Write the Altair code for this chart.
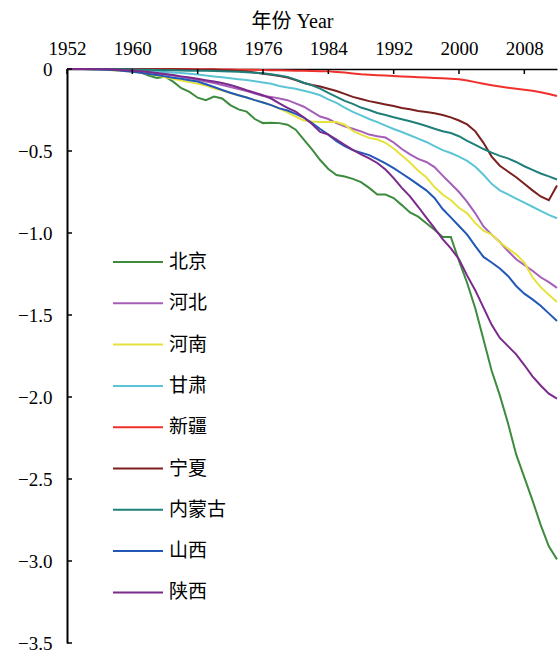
import altair as alt
import pandas as pd

years = list(range(1952, 2013))
series_names = ["北京", "河北", "河南", "甘肃", "新疆", "宁夏", "内蒙古", "山西", "陕西"]
colors = ["#3d8b3d", "#a65fb8", "#e6e23c", "#5bc5d5", "#f0302a",
          "#7b1f1f", "#1f7f7a", "#2158b8", "#7b2a8c"]

beijing = [0, 0, 0, -0.001, -0.002, -0.004, -0.006, -0.008, -0.012, -0.02,
           -0.04, -0.055, -0.047, -0.077, -0.117, -0.14, -0.175, -0.19, -0.168, -0.18,
           -0.22, -0.246, -0.26, -0.305, -0.33, -0.327, -0.33, -0.34, -0.37, -0.43,
           -0.49, -0.555, -0.61, -0.646, -0.655, -0.67, -0.69, -0.725, -0.766, -0.766,
           -0.787, -0.83, -0.875, -0.9, -0.94, -0.98, -1.024, -1.024, -1.17, -1.305,
           -1.46, -1.65, -1.84, -1.99, -2.16, -2.35, -2.49, -2.63, -2.78, -2.91,
           -2.99]
hebei = [0, 0, 0, -0.001, -0.002, -0.003, -0.005, -0.008, -0.012, -0.016,
         -0.021, -0.027, -0.033, -0.04, -0.048, -0.057, -0.066, -0.076, -0.086, -0.097,
         -0.11, -0.122, -0.135, -0.15, -0.165, -0.17, -0.18, -0.19, -0.21, -0.23,
         -0.26, -0.29, -0.305, -0.33, -0.35, -0.364, -0.38, -0.40, -0.41, -0.418,
         -0.448, -0.488, -0.52, -0.548, -0.567, -0.598, -0.65, -0.70, -0.75, -0.81,
         -0.88, -0.96, -1.01, -1.055, -1.11, -1.16, -1.195, -1.23, -1.27, -1.30,
         -1.335]
henan = [0, 0, 0, -0.002, -0.004, -0.006, -0.009, -0.012, -0.016, -0.022,
         -0.03, -0.04, -0.05, -0.06, -0.07, -0.08, -0.09, -0.1, -0.118, -0.132,
         -0.146, -0.16, -0.174, -0.19, -0.204, -0.22, -0.24, -0.265, -0.29, -0.314,
         -0.32, -0.323, -0.323, -0.323, -0.34, -0.378, -0.40, -0.42, -0.43, -0.45,
         -0.485, -0.527, -0.57, -0.62, -0.66, -0.72, -0.765, -0.80, -0.846, -0.88,
         -0.94, -0.986, -1.01, -1.056, -1.095, -1.13, -1.18, -1.27, -1.33, -1.376,
         -1.42]
gansu = [0, 0, 0, -0.001, -0.002, -0.003, -0.004, -0.006, -0.008, -0.01,
         -0.012, -0.015, -0.018, -0.021, -0.024, -0.029, -0.034, -0.04, -0.045, -0.051,
         -0.057, -0.062, -0.067, -0.075, -0.082, -0.09, -0.104, -0.113, -0.12, -0.133,
         -0.145, -0.16, -0.185, -0.207, -0.236, -0.262, -0.283, -0.305, -0.324, -0.345,
         -0.366, -0.384, -0.404, -0.425, -0.445, -0.47, -0.495, -0.512, -0.534, -0.56,
         -0.596, -0.645, -0.70, -0.74, -0.765, -0.79, -0.815, -0.84, -0.865, -0.89,
         -0.91]
xinjiang = [0, 0, 0, 0, 0, 0, 0, 0, 0, 0,
            0, 0, 0, 0, 0, -0.001, -0.001, -0.002, -0.002, -0.003,
            -0.003, -0.004, -0.004, -0.005, -0.006, -0.007, -0.008, -0.009, -0.01, -0.011,
            -0.012, -0.013, -0.014, -0.018, -0.022, -0.027, -0.032, -0.035, -0.038, -0.04,
            -0.043, -0.045, -0.047, -0.05, -0.052, -0.055, -0.057, -0.059, -0.063, -0.07,
            -0.08, -0.09, -0.099, -0.107, -0.114, -0.12, -0.126, -0.133, -0.142, -0.153,
            -0.165]
ningxia = [0, 0, 0, 0, 0, 0, 0, 0, -0.001, -0.001,
           -0.001, -0.002, -0.002, -0.002, -0.003, -0.003, -0.004, -0.004, -0.005, -0.007,
           -0.009, -0.012, -0.015, -0.022, -0.029, -0.035, -0.043, -0.052, -0.067, -0.085,
           -0.098, -0.107, -0.12, -0.134, -0.152, -0.17, -0.183, -0.196, -0.206, -0.216,
           -0.226, -0.238, -0.246, -0.256, -0.262, -0.27, -0.28, -0.295, -0.314, -0.338,
           -0.38, -0.45, -0.534, -0.59, -0.625, -0.66, -0.70, -0.74, -0.777, -0.80,
           -0.71]
neimenggu = [0, 0, 0, 0, 0, -0.001, -0.001, -0.002, -0.003, -0.004,
             -0.005, -0.006, -0.007, -0.008, -0.009, -0.01, -0.01, -0.011, -0.012, -0.013,
             -0.015, -0.017, -0.02, -0.023, -0.026, -0.032, -0.04, -0.048, -0.065, -0.084,
             -0.10, -0.12, -0.146, -0.17, -0.194, -0.213, -0.235, -0.25, -0.268, -0.28,
             -0.294, -0.306, -0.319, -0.332, -0.348, -0.364, -0.38, -0.39, -0.41, -0.438,
             -0.463, -0.488, -0.51, -0.53, -0.545, -0.567, -0.593, -0.615, -0.637, -0.655,
             -0.674]
shanxi = [0, 0, 0, -0.001, -0.003, -0.005, -0.008, -0.012, -0.017, -0.023,
          -0.03, -0.037, -0.045, -0.053, -0.06, -0.068, -0.076, -0.093, -0.11, -0.128,
          -0.145, -0.16, -0.174, -0.19, -0.204, -0.22, -0.24, -0.253, -0.274, -0.296,
          -0.33, -0.366, -0.40, -0.44, -0.47, -0.495, -0.51, -0.525, -0.55, -0.575,
          -0.604, -0.637, -0.67, -0.705, -0.74, -0.786, -0.854, -0.905, -0.957, -1.01,
          -1.08, -1.146, -1.18, -1.216, -1.262, -1.323, -1.37, -1.405, -1.444, -1.49,
          -1.537]
shaanxi = [0, 0, 0, 0, -0.001, -0.002, -0.004, -0.007, -0.01, -0.014,
           -0.018, -0.024, -0.03, -0.037, -0.045, -0.052, -0.06, -0.068, -0.076, -0.086,
           -0.097, -0.113, -0.13, -0.145, -0.16, -0.18, -0.21, -0.237, -0.26, -0.296,
           -0.335, -0.384, -0.40, -0.43, -0.462, -0.493, -0.52, -0.545, -0.573, -0.613,
           -0.665, -0.725, -0.777, -0.84, -0.906, -0.97, -1.037, -1.094, -1.16, -1.26,
           -1.35, -1.455, -1.56, -1.64, -1.69, -1.74, -1.805, -1.874, -1.93, -1.98,
           -2.01]

all_series = [beijing, hebei, henan, gansu, xinjiang, ningxia, neimenggu, shanxi, shaanxi]

x_ticks = [1952, 1960, 1968, 1976, 1984, 1992, 2000, 2008]
y_ticks = [0, -0.5, -1.0, -1.5, -2.0, -2.5, -3.0, -3.5]

rows = []
for idx, (name, vals) in enumerate(zip(series_names, all_series)):
    for yr, v in zip(years, vals):
        rows.append({"year": yr, "region": name, "value": v, "k": idx})
df = pd.DataFrame(rows)

tick_df = pd.DataFrame({"year": x_ticks})
ytick_df = pd.DataFrame({"value": y_ticks})

FONT = "Liberation Serif, Noto Sans CJK SC"

x_scale = alt.Scale(domain=[1952, 2012], nice=False, zero=False)
y_scale = alt.Scale(domain=[-3.5, 0], nice=False, zero=False)

x_axis = alt.Axis(orient="top", values=x_ticks, format="d", title="年份 Year",
                  titleFont=FONT, titleFontSize=20, titleFontWeight="normal",
                  titleColor="black", titleX=225, titleY=-42,
                  titleBaseline="alphabetic", titleAlign="center",
                  labelFont=FONT, labelFontSize=19, labelColor="black",
                  labelBaseline="alphabetic", labelPadding=15,
                  labelFlush=False, labelOverlap=False,
                  ticks=False, tickSize=0, grid=False,
                  domainColor="black", domainWidth=1.5)
y_axis = alt.Axis(values=y_ticks, title=None,
                  labelExpr="datum.value == 0 ? '0' : format(datum.value, '.1f')",
                  labelFont=FONT, labelFontSize=19, labelColor="black",
                  labelPadding=15, labelFlush=False, labelOverlap=False,
                  ticks=False, tickSize=0, grid=False,
                  domainColor="black", domainWidth=2)

lines = alt.Chart(df).mark_line(strokeWidth=2).encode(
    x=alt.X("year:Q", scale=x_scale, axis=x_axis),
    y=alt.Y("value:Q", scale=y_scale, axis=y_axis),
    color=alt.Color("region:N",
                    scale=alt.Scale(domain=series_names, range=colors),
                    legend=alt.Legend(orient="none", legendX=60, legendY=182, title=None,
                                      symbolType="M-2.5,0L2.5,0", symbolSize=400,
                                      symbolStrokeWidth=2, labelOffset=20, rowPadding=20.3,
                                      padding=0, labelFont=FONT, labelFontSize=19,
                                      labelColor="black", labelLimit=200)),
    order=alt.Order("year:Q"),
)

xt = alt.Chart(tick_df).mark_rule(color="black", strokeWidth=1.5).encode(
    x=alt.X("year:Q", scale=x_scale, axis=x_axis),
    y=alt.value(0), y2=alt.value(5),
)
yt = alt.Chart(ytick_df).mark_rule(color="black", strokeWidth=1.5).encode(
    y=alt.Y("value:Q", scale=y_scale, axis=y_axis),
    x=alt.value(0), x2=alt.value(5),
)

chart = alt.layer(lines, xt, yt).properties(
    width=490, height=574,
    autosize=alt.AutoSizeParams(type="none"),
    padding={"left": 67, "top": 69, "right": 2, "bottom": 8},
).configure_view(stroke=None)

chart.save("out.html", embed_options={"renderer": "svg", "actions": False})
